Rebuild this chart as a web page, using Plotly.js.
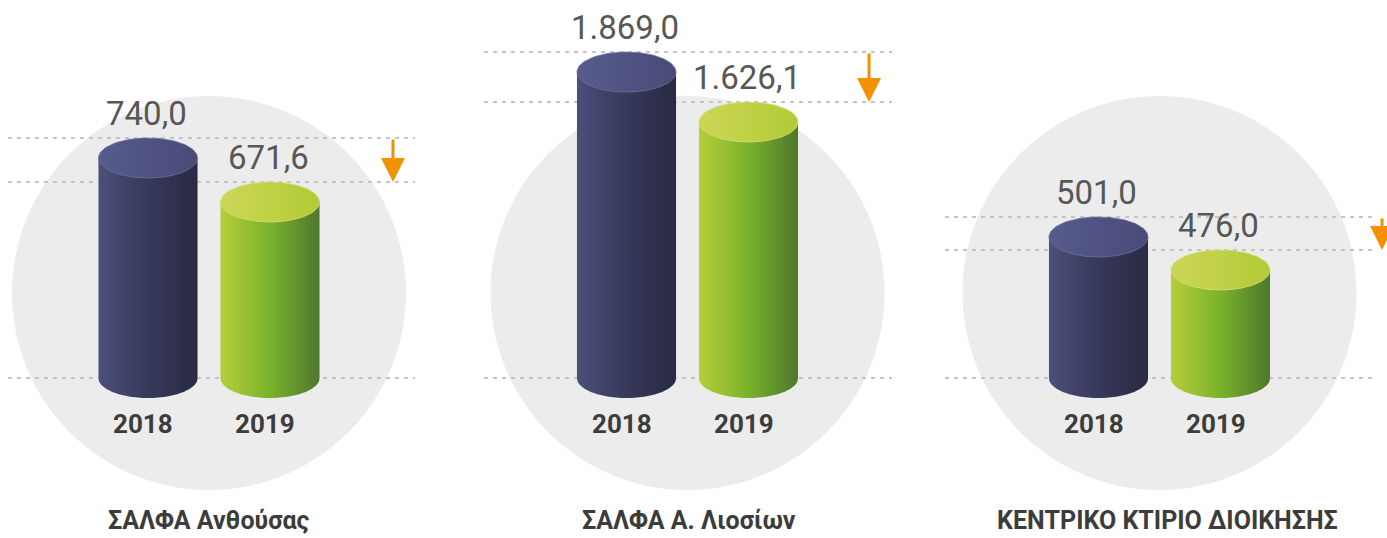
<!DOCTYPE html>
<html>
<head>
<meta charset="utf-8">
<script src="https://cdn.plot.ly/plotly-3.0.1.min.js"></script>
<style>
  html, body { margin: 0; padding: 0; background: #ffffff; }
  #chart { width: 1387px; height: 538px; }
</style>
</head>
<body>
<div id="chart"></div>
<script>
// ---------- DATA ----------
const categories = ['ΣΑΛΦΑ Ανθούσας', 'ΣΑΛΦΑ Α. Λιοσίων', 'ΚΕΝΤΡΙΚΟ ΚΤΙΡΙΟ ΔΙΟΙΚΗΣΗΣ'];
const years = ['2018', '2019'];
const values2018 = [740.0, 1869.0, 501.0];
const values2019 = [671.6, 1626.1, 476.0];

// ---------- LAYOUT GEOMETRY (pixels / axis settings) ----------
const W = 1387, H = 538;
const domainPx = [[0, 450], [450, 920], [920, 1387]];
const firstBarPx = [148, 626.5, 1098.5];
const barStepPx = 122;
const yRanges = [[149.3, 985.6], [-395, 2219], [273, 680.5]];
const baselinePx = 378;
const ellipseRyPx = 20;
const barHalfWidth = 0.406;           // in category units
const circleCenterYPx = 293, circleRPx = 197;
const lineExtent = [[-1.148, 2.189], [-1.168, 2.176], [-1.258, 2.25]];
const arrowX = [2.008, 1.988, 2.324];
const titleShiftPx = [0, 1, 8];

const bodyScales = [
  [[0, '#4c4f7a'], [0.5, '#363959'], [1, '#292a43']],
  [[0, '#b6cd3a'], [0.5, '#7ab22b'], [1, '#4f772c']]
];
const topScales = [
  [[0, '#565c8c'], [1, '#494a77']],
  [[0, '#ccd656'], [1, '#b2cb36']]
];

function fmt(v) {
  const parts = v.toFixed(1).split('.');
  const intPart = parts[0].replace(/\B(?=(\d{3})+(?!\d))/g, '.');
  return intPart + ',' + parts[1];
}

const traces = [];
const shapes = [];
const annotations = [];
const layout = {
  width: W, height: H,
  margin: {l: 0, r: 0, t: 0, b: 0},
  paper_bgcolor: '#ffffff',
  plot_bgcolor: 'rgba(0,0,0,0)',
  showlegend: false,
  hovermode: false
};

categories.forEach((cat, p) => {
  const sfx = p === 0 ? '' : String(p + 1);
  const xa = 'x' + sfx, ya = 'y' + sfx;
  const [d0, d1] = domainPx[p];
  const xr = [(d0 - firstBarPx[p]) / barStepPx, (d1 - firstBarPx[p]) / barStepPx];
  const [lo, hi] = yRanges[p];
  layout['xaxis' + sfx] = {domain: [d0 / W, d1 / W], range: xr, visible: false, fixedrange: true, anchor: ya};
  layout['yaxis' + sfx] = {domain: [0, 1], range: [lo, hi], visible: false, fixedrange: true, anchor: xa};

  const unitsPerPx = (hi - lo) / H;
  const ry = ellipseRyPx * unitsPerPx;
  const base = lo + (H - baselinePx) * unitsPerPx;
  const vals = [values2018[p], values2019[p]];

  // background circle
  shapes.push({
    type: 'circle', layer: 'below', xref: xa, yref: 'paper',
    xsizemode: 'pixel', xanchor: 0.5, x0: -circleRPx, x1: circleRPx,
    y0: 1 - (circleCenterYPx + circleRPx) / H, y1: 1 - (circleCenterYPx - circleRPx) / H,
    fillcolor: '#ececec', line: {width: 0}
  });

  // dashed guide lines at the top of each cylinder and at the baseline
  vals.forEach(v => {
    shapes.push({
      type: 'line', layer: 'below', xref: xa, yref: ya,
      x0: lineExtent[p][0], x1: lineExtent[p][1],
      ysizemode: 'pixel', yanchor: v, y0: ellipseRyPx, y1: ellipseRyPx,
      line: {color: '#c4c4c4', width: 2, dash: '4px,5px'}
    });
  });
  shapes.push({
    type: 'line', layer: 'below', xref: xa, yref: 'paper',
    x0: lineExtent[p][0], x1: lineExtent[p][1],
    y0: 1 - baselinePx / H, y1: 1 - baselinePx / H,
    line: {color: '#c4c4c4', width: 2, dash: '4px,5px'}
  });

  // cylinders
  vals.forEach((v, i) => {
    const cx = i;
    const N = 60;
    const bx = [cx - barHalfWidth], by = [v];
    bx.push(cx - barHalfWidth); by.push(base);
    for (let k = 0; k <= N; k++) {
      const t = Math.PI + Math.PI * k / N;
      bx.push(cx + barHalfWidth * Math.cos(t));
      by.push(base + ry * Math.sin(t));
    }
    bx.push(cx + barHalfWidth); by.push(v);
    bx.push(cx - barHalfWidth); by.push(v);
    traces.push({
      type: 'scatter', mode: 'none', x: bx, y: by, xaxis: xa, yaxis: ya,
      fill: 'toself', fillcolor: bodyScales[i][1][1],
      fillgradient: {type: 'horizontal', colorscale: bodyScales[i]},
      hoverinfo: 'skip'
    });
    const tx = [], ty = [];
    for (let k = 0; k <= 2 * N; k++) {
      const t = 2 * Math.PI * k / (2 * N);
      tx.push(cx + barHalfWidth * Math.cos(t));
      ty.push(v + ry * Math.sin(t));
    }
    traces.push({
      type: 'scatter', mode: 'lines', x: tx, y: ty, xaxis: xa, yaxis: ya,
      line: {width: 0.8, color: i === 0 ? '#6b709c' : '#d6de7a'},
      fill: 'toself', fillcolor: topScales[i][0][1],
      fillgradient: {type: 'horizontal', colorscale: topScales[i]},
      hoverinfo: 'skip'
    });

    // value label
    annotations.push({
      xref: xa, yref: ya, x: cx, y: v, yshift: ellipseRyPx + 3, xshift: -2,
      xanchor: 'center', yanchor: 'bottom', showarrow: false,
      text: fmt(v), font: {family: 'Roboto', size: 33, color: '#575756'}
    });
    // year label
    annotations.push({
      xref: xa, yref: 'paper', x: cx, y: 1 - 424 / H, xshift: -5,
      xanchor: 'center', yanchor: 'middle', showarrow: false,
      text: '<b>' + years[i] + '</b>', font: {family: 'Roboto', size: 26, color: '#3c3c3b'}
    });
  });

  // down arrow from 2018 level to 2019 level
  annotations.push({
    xref: xa, yref: ya, x: arrowX[p], y: vals[1], yshift: ellipseRyPx,
    axref: xa, ayref: ya, ax: arrowX[p], ay: vals[0],
    showarrow: true, text: '', arrowhead: 2, arrowsize: 1.6, arrowwidth: 3,
    arrowcolor: '#f39200', standoff: 0
  });

  // panel title
  annotations.push({
    xref: xa, yref: 'paper', x: 0.5, y: 0, xshift: titleShiftPx[p], yshift: 1,
    xanchor: 'center', yanchor: 'bottom', showarrow: false,
    text: '<b>' + cat + '</b>', font: {family: 'Roboto', size: 25, color: '#3c3c3b'}
  });
});

layout.shapes = shapes;
layout.annotations = annotations;

Plotly.newPlot('chart', traces, layout, {staticPlot: true, displayModeBar: false});
</script>
</body>
</html>
